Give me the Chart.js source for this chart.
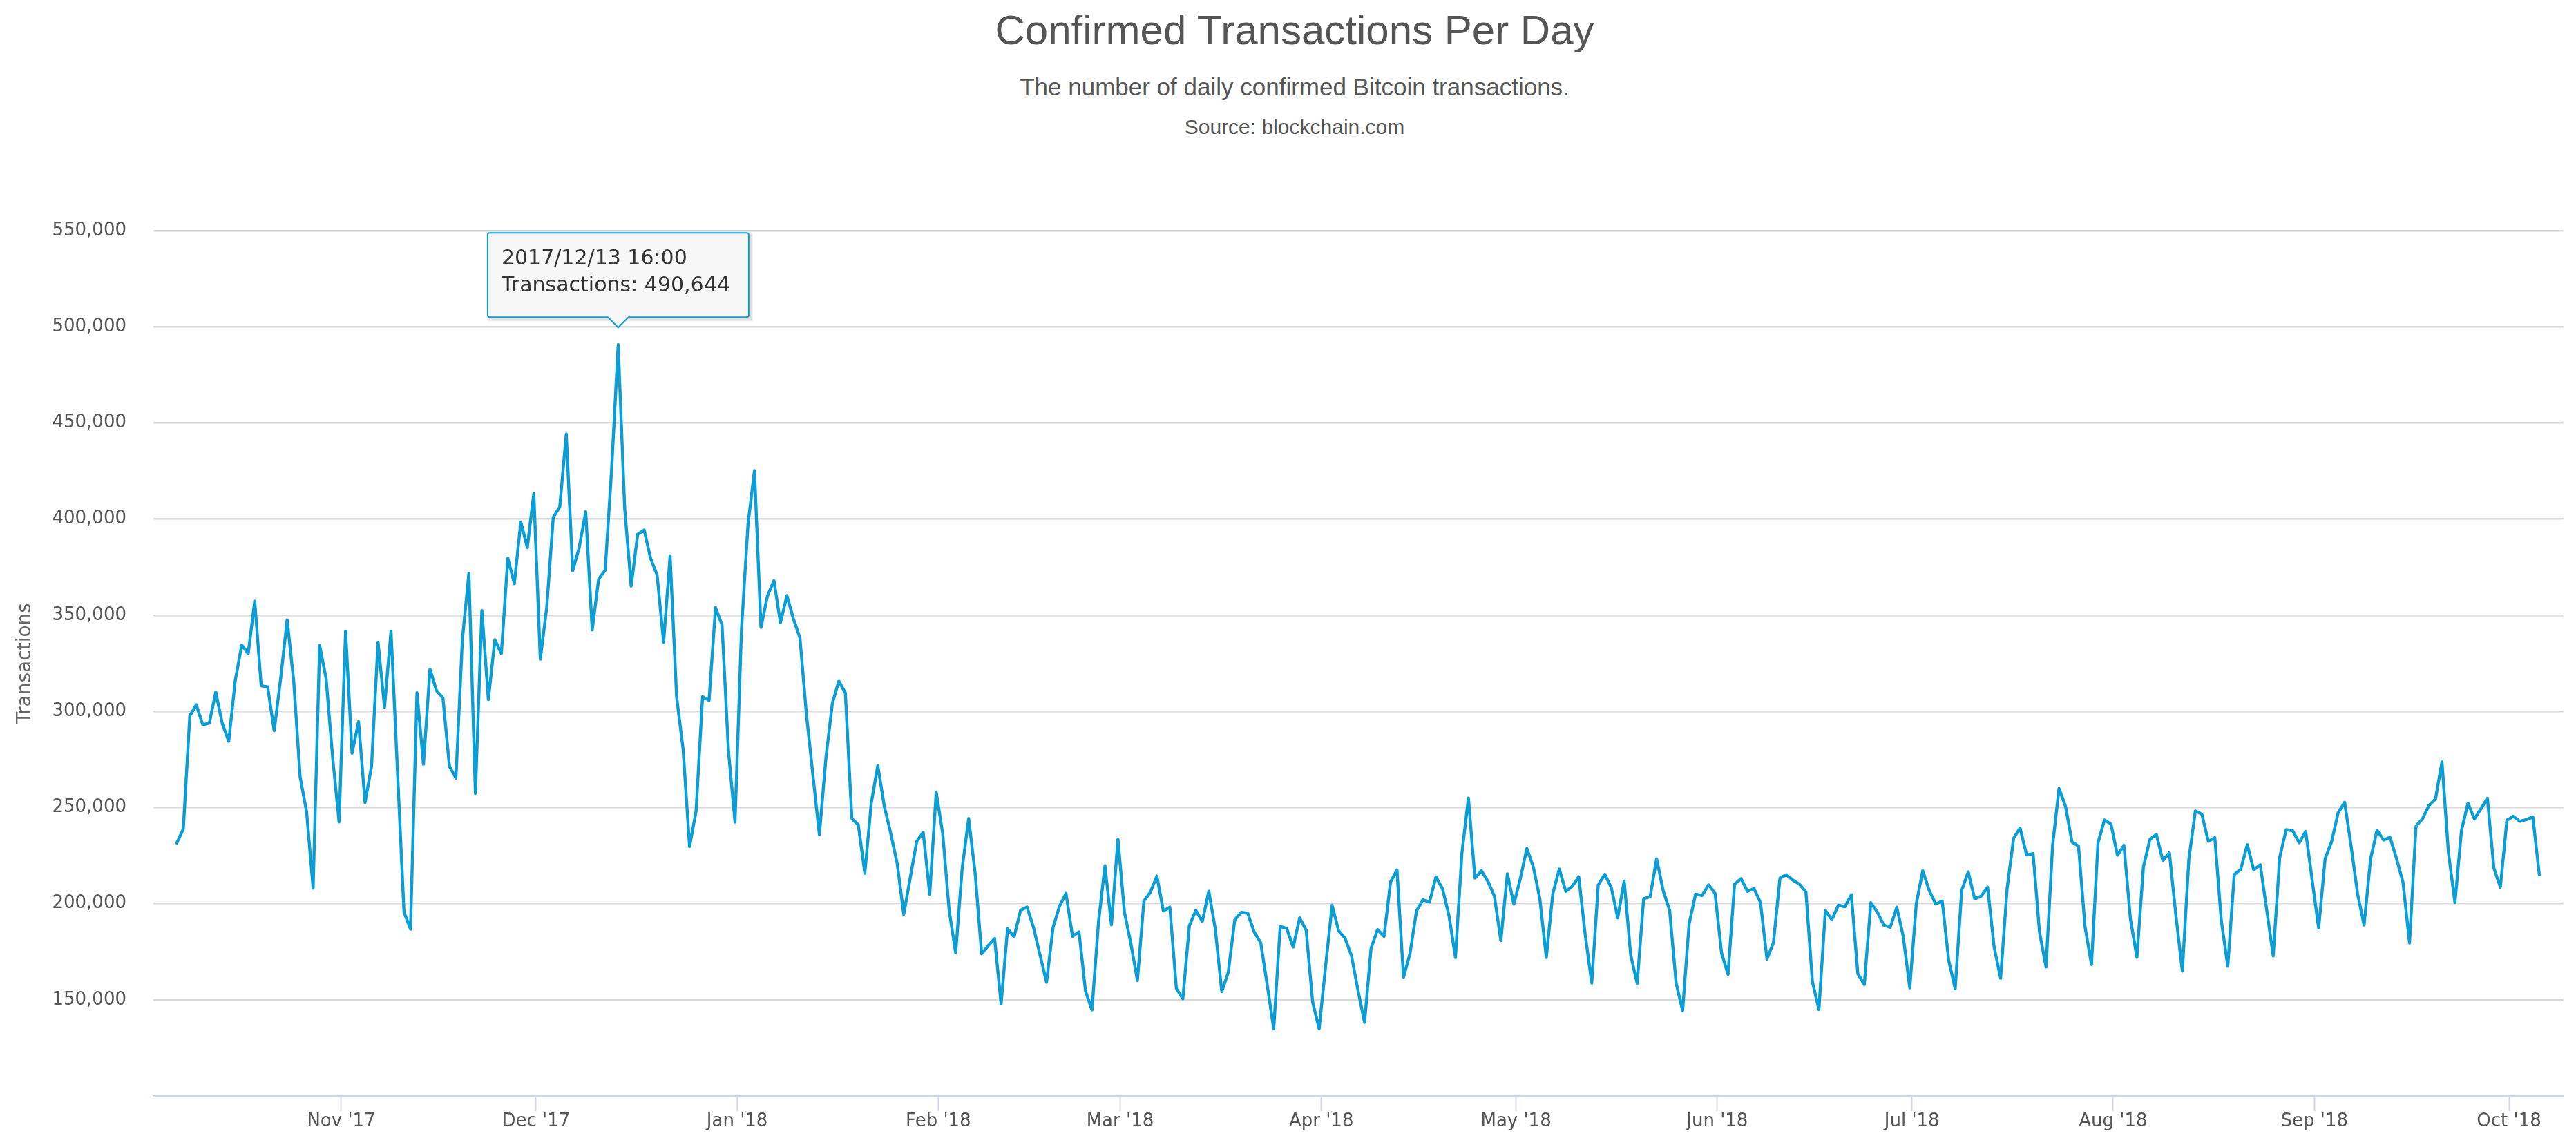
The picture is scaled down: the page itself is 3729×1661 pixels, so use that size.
<!DOCTYPE html>
<html>
<head>
<meta charset="utf-8">
<title>Confirmed Transactions Per Day</title>
<script src="https://cdn.jsdelivr.net/npm/chart.js@4.4.1/dist/chart.umd.min.js"></script>
<style>
  body { margin: 0; background: #fff; }
  #wrap { position: relative; width: 3729px; height: 1661px; overflow: hidden; }
  .head { position: absolute; left: 1874px; transform: translateX(-50%); white-space: nowrap;
          font-family: "Liberation Sans", Arial, sans-serif; color: #555; line-height: 1; }
  #title { top: 14px; font-size: 60px; }
  #subtitle { top: 108px; font-size: 35px; }
  #source { top: 169px; font-size: 30px; }
  canvas { position: absolute; left: 0; top: 0; }
</style>
</head>
<body>
<div id="wrap">
  <div class="head" id="title">Confirmed Transactions Per Day</div>
  <div class="head" id="subtitle">The number of daily confirmed Bitcoin transactions.</div>
  <div class="head" id="source">Source: blockchain.com</div>
  <canvas id="chart" width="3729" height="1661"></canvas>
</div>
<script>
// daily points, first one is 2017/10/06 16:00, one per day
const firstPoint = "2017-10-06T16:00:00Z";
const transactions = [
  231500, 238900, 297700, 303400, 293000, 293900, 310000, 293700, 284400, 316000,
  334500, 330000, 357300, 313300, 312700, 289900, 317100, 347600, 316000, 265800,
  247600, 208000, 334300, 317100, 276300, 242500, 341700, 278200, 294700, 252500,
  271500, 336000, 302100, 341700, 268700, 195600, 186700, 309700, 272500, 322000,
  310800, 307000, 271500, 265300, 337600, 371700, 257300, 352400, 306100, 337200,
  330000, 379700, 366400, 398500, 385200, 413300, 327100, 354200, 400900, 406300,
  444200, 373200, 385200, 403800, 342300, 368900, 373400, 426500, 490644, 405800,
  365100, 392000, 394300, 379500, 370900, 335900, 380900, 307600, 280400, 229700,
  248000, 307600, 305700, 353900, 344900, 279100, 242400, 342500, 397200, 425200,
  343700, 360000, 368000, 346100, 360200, 348100, 338300, 298600, 267000, 235800,
  275500, 304200, 315700, 309600, 244300, 240900, 215800, 252400, 271800, 250700,
  236500, 220700, 194400, 213400, 232400, 237000, 204900, 257900, 236500, 196400,
  174400, 218300, 244300, 215800, 173900, 178100, 181800, 147800, 187000, 182700,
  196500, 198200, 187500, 173300, 159100, 187500, 198700, 205300, 183000, 185300,
  154600, 144700, 190100, 219700, 189000, 233600, 195600, 179100, 160000, 201400,
  205900, 214300, 196200, 198200, 155900, 150500, 188500, 196500, 190700, 206400,
  186800, 154200, 164300, 191600, 195500, 195000, 185200, 179700, 157800, 134900,
  188100, 187100, 177400, 192600, 186200, 148800, 134900, 167500, 199100, 185900,
  182000, 172700, 154600, 138200, 176800, 186500, 183000, 211200, 217500, 161700,
  174000, 196200, 202000, 200800, 213900, 207800, 193900, 172000, 226200, 254900,
  213300, 217100, 211600, 203900, 180800, 215500, 199700, 213000, 228700, 219100,
  202600, 172000, 205100, 218000, 206400, 209000, 213900, 183700, 158700, 209700,
  215200, 208500, 192600, 211700, 173300, 158500, 202600, 203600, 223300, 206800,
  196500, 158700, 144300, 189400, 204900, 204200, 209800, 205300, 174300, 163200,
  210000, 213000, 206400, 207800, 200600, 171200, 179700, 213300, 215000, 212200,
  210100, 206100, 159400, 144900, 196400, 191700, 199200, 198400, 204600, 163500,
  158000, 200500, 195600, 188800, 187700, 198100, 182900, 156200, 199800, 217100,
  206800, 199800, 201300, 170500, 155700, 206800, 216500, 202500, 203900, 208500,
  177400, 161200, 207800, 234000, 239300, 225300, 226000, 185000, 167000, 229900,
  259900, 250600, 232000, 229900, 188000, 168400, 231600, 243500, 241400, 225100,
  230300, 191900, 172100, 219100, 233400, 235900, 222300, 226500, 194000, 164900,
  223000, 248200, 246500, 232400, 234300, 191200, 167400, 215100, 217900, 230600,
  217500, 220200, 196700, 172800, 224100, 238500, 237900, 231600, 237500, 212200,
  187300, 223400, 232300, 247200, 252700, 229900, 205000, 188900, 223300, 238200,
  233100, 234500, 223400, 211000, 179500, 240300, 244100, 251100, 254400, 273700,
  226400, 200500, 237900, 252300, 244000, 249300, 254800, 218400, 208500, 243300,
  245400, 242800, 243700, 245100, 215000
];

// x axis month ticks
const monthTicks = [
  "2017-11-01", "2017-12-01", "2018-01-01", "2018-02-01", "2018-03-01", "2018-04-01",
  "2018-05-01", "2018-06-01", "2018-07-01", "2018-08-01", "2018-09-01", "2018-10-01"
];
const monthLabels = [
  "Nov '17", "Dec '17", "Jan '18", "Feb '18", "Mar '18", "Apr '18",
  "May '18", "Jun '18", "Jul '18", "Aug '18", "Sep '18", "Oct '18"
];

// y axis ticks
const yTicks = [100000, 150000, 200000, 250000, 300000, 350000, 400000, 450000, 500000, 550000];

const highlightIndex = 68; // 2017/12/13 16:00 tooltip

const DAY = 86400000;
const lineColor = "#0b9dd6";
const start = Date.parse(firstPoint);
const points = transactions.map((v, i) => ({ x: start + i * DAY, y: v }));
const tickValues = monthTicks.map(d => Date.parse(d));

function pad2(n) { return String(n).padStart(2, "0"); }
function fmtDate(ms) {
  const d = new Date(ms);
  return d.getUTCFullYear() + "/" + pad2(d.getUTCMonth() + 1) + "/" + pad2(d.getUTCDate()) +
    " " + pad2(d.getUTCHours()) + ":" + pad2(d.getUTCMinutes());
}

// soft shadow under the tooltip box
const tooltipShadow = {
  id: "tooltipShadow",
  beforeTooltipDraw(chart, args) {
    const t = args.tooltip;
    if (!t.opacity) return;
    const ctx = chart.ctx;
    ctx.save();
    ctx.fillStyle = "rgba(0,0,0,0.07)";
    ctx.fillRect(t.x + 2, t.y + 2, t.width + 3, t.height + 3);
    ctx.fillStyle = "rgba(0,0,0,0.06)";
    ctx.fillRect(t.x + 1, t.y + 1, t.width + 5, t.height + 5);
    ctx.restore();
  }
};

const ctx = document.getElementById("chart").getContext("2d");

const chart = new Chart(ctx, {
  type: "line",
  data: {
    datasets: [{
      label: "Transactions",
      data: points,
      borderColor: lineColor,
      borderWidth: 4.4,
      pointRadius: 0,
      pointHoverRadius: 0,
      tension: 0,
      fill: false,
      borderJoinStyle: "round",
      borderCapStyle: "round"
    }]
  },
  options: {
    responsive: false,
    animation: false,
    devicePixelRatio: 1,
    events: [],
    layout: { padding: { top: 334, left: 0, right: 18, bottom: 0 } },
    plugins: {
      legend: { display: false },
      title: { display: false },
      tooltip: {
        enabled: true,
        xAlign: "center",
        yAlign: "bottom",
        backgroundColor: "#f7f7f7",
        borderColor: lineColor,
        borderWidth: 2,
        cornerRadius: 3,
        caretSize: 15,
        caretPadding: 25,
        displayColors: false,
        padding: { top: 20, bottom: 27, left: 20, right: 27 },
        titleColor: "#333",
        bodyColor: "#333",
        titleFont: { family: "DejaVu Sans", size: 30, weight: "normal", lineHeight: 1.2 },
        bodyFont: { family: "DejaVu Sans", size: 30, weight: "normal", lineHeight: 1.2 },
        titleMarginBottom: 3,
        callbacks: {
          title: items => fmtDate(items[0].parsed.x),
          label: item => "Transactions: " + item.parsed.y.toLocaleString("en-US")
        }
      }
    },
    scales: {
      x: {
        type: "linear",
        min: Date.parse("2017-10-03T01:12:00Z"),
        max: Date.parse("2018-10-09T09:36:00Z"),
        afterBuildTicks: axis => { axis.ticks = tickValues.map(v => ({ value: v })); },
        afterFit: axis => { axis.height = 74; },
        grid: {
          drawOnChartArea: false,
          drawTicks: true,
          tickLength: 22,
          tickColor: "#ccd6eb",
          tickWidth: 2,
          color: "#ccd6eb"
        },
        border: { display: true, color: "#ccd6eb", width: 3 },
        ticks: {
          autoSkip: false,
          maxRotation: 0,
          padding: 0,
          color: "#555",
          font: { family: "DejaVu Sans", size: 26 },
          callback: value => monthLabels[tickValues.indexOf(value)] || ""
        }
      },
      y: {
        min: yTicks[0],
        max: yTicks[yTicks.length - 1],
        afterBuildTicks: axis => { axis.ticks = yTicks.map(v => ({ value: v })); },
        afterFit: axis => { axis.width = 222; },
        grid: {
          drawTicks: false,
          lineWidth: 2.5,
          color: c => (c.tick && c.tick.value === yTicks[0]) ? "rgba(0,0,0,0)" : "#dadada"
        },
        border: { display: false },
        ticks: {
          padding: 39,
          color: "#555",
          font: { family: "DejaVu Sans", size: 26 },
          callback: value => value === yTicks[0] ? "" : value.toLocaleString("en-US")
        },
        title: {
          display: true,
          text: "Transactions",
          color: "#666",
          padding: { top: 20, bottom: 0 },
          font: { family: "DejaVu Sans", size: 28 }
        }
      }
    }
  },
  plugins: [tooltipShadow]
});

// show the tooltip on the Dec 13 peak
const peak = chart.getDatasetMeta(0).data[highlightIndex];
chart.tooltip.setActiveElements([{ datasetIndex: 0, index: highlightIndex }], { x: peak.x, y: peak.y });
chart.update();
</script>
</body>
</html>
